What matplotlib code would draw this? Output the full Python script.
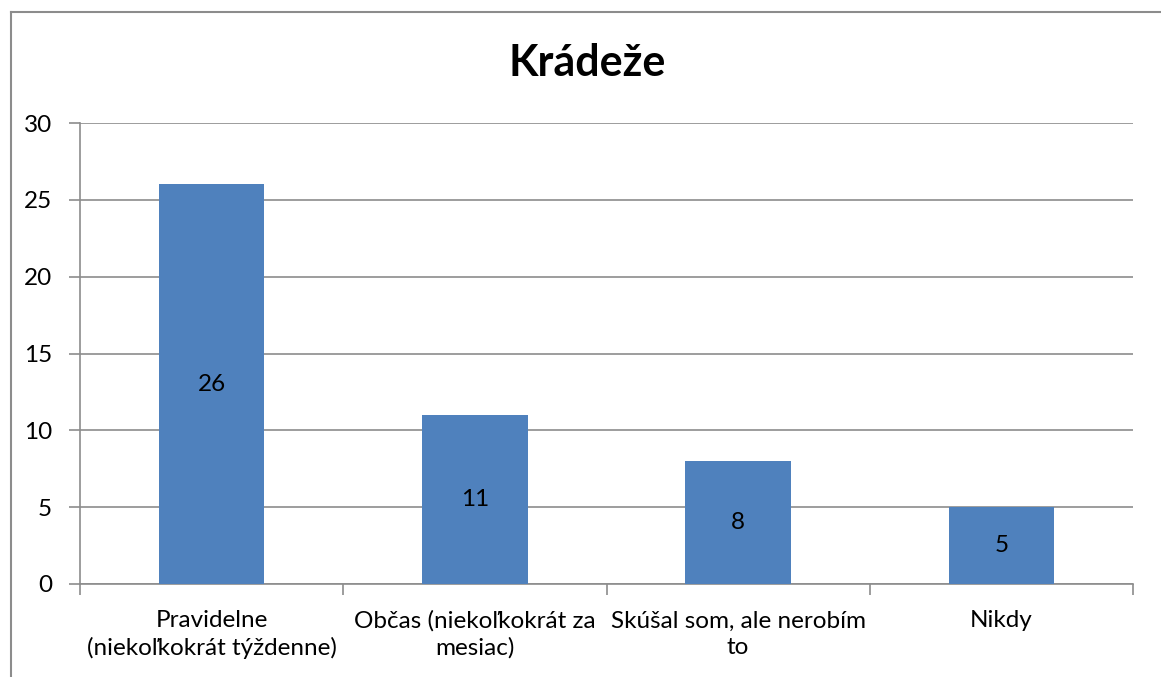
import matplotlib
matplotlib.use("Agg")
import matplotlib.pyplot as plt
from matplotlib.lines import Line2D

title = "Krádeže"
categories = ["Pravidelne\n(niekoľkokrát týždenne)",
              "Občas (niekoľkokrát za\nmesiac)",
              "Skúšal som, ale nerobím\nto",
              "Nikdy"]
values = [26, 11, 8, 5]
yticks = [0, 5, 10, 15, 20, 25, 30]

plt.rcParams['font.family'] = ['Lato', 'DejaVu Sans']

fig = plt.figure(figsize=(11.61, 6.77), dpi=100)
ax = fig.add_axes([80/1161, 1 - 584/677, (1133-80)/1161, (584-123)/677])

gray = "#8c8c8c"
fs = 17.5
x = list(range(len(categories)))
bars = ax.bar(x, values, width=0.4, color="#4F81BD", zorder=3)
for b, v in zip(bars, values):
    ax.text(b.get_x() + b.get_width()/2, v/2, str(v), ha="center", va="center",
            fontsize=fs, color="black", zorder=4)

ax.set_xlim(-0.5, len(categories) - 0.5)
ax.set_ylim(0, 30)
ax.set_yticks(yticks)
ax.set_yticklabels([str(t) for t in yticks], fontsize=fs)
ax.yaxis.grid(True, color=gray, linewidth=1.2, zorder=0)
ax.tick_params(axis="y", length=8, color=gray, width=1.2, pad=12)

ax.set_xticks(x)
ax.set_xticklabels(categories, fontsize=fs, linespacing=1.32)
ax.tick_params(axis="x", length=0, pad=19)
ax.set_xticks([i - 0.5 for i in range(len(categories) + 1)], minor=True)
ax.tick_params(axis="x", which="minor", length=8, color=gray, width=1.2)

for s in ["top", "right"]:
    ax.spines[s].set_visible(False)
for s in ["left", "bottom"]:
    ax.spines[s].set_color(gray)
    ax.spines[s].set_linewidth(1.2)

fig.text(587/1161, 1 - 63/677, title, ha="center", va="center",
         fontsize=31, fontweight="bold")

fx = 11/1161
fy = 1 - 12/677
fig.add_artist(Line2D([fx, fx], [0, fy], color=gray, linewidth=1.5, transform=fig.transFigure))
fig.add_artist(Line2D([fx, 1], [fy, fy], color=gray, linewidth=1.5, transform=fig.transFigure))

fig.savefig("out.png", dpi=100)
